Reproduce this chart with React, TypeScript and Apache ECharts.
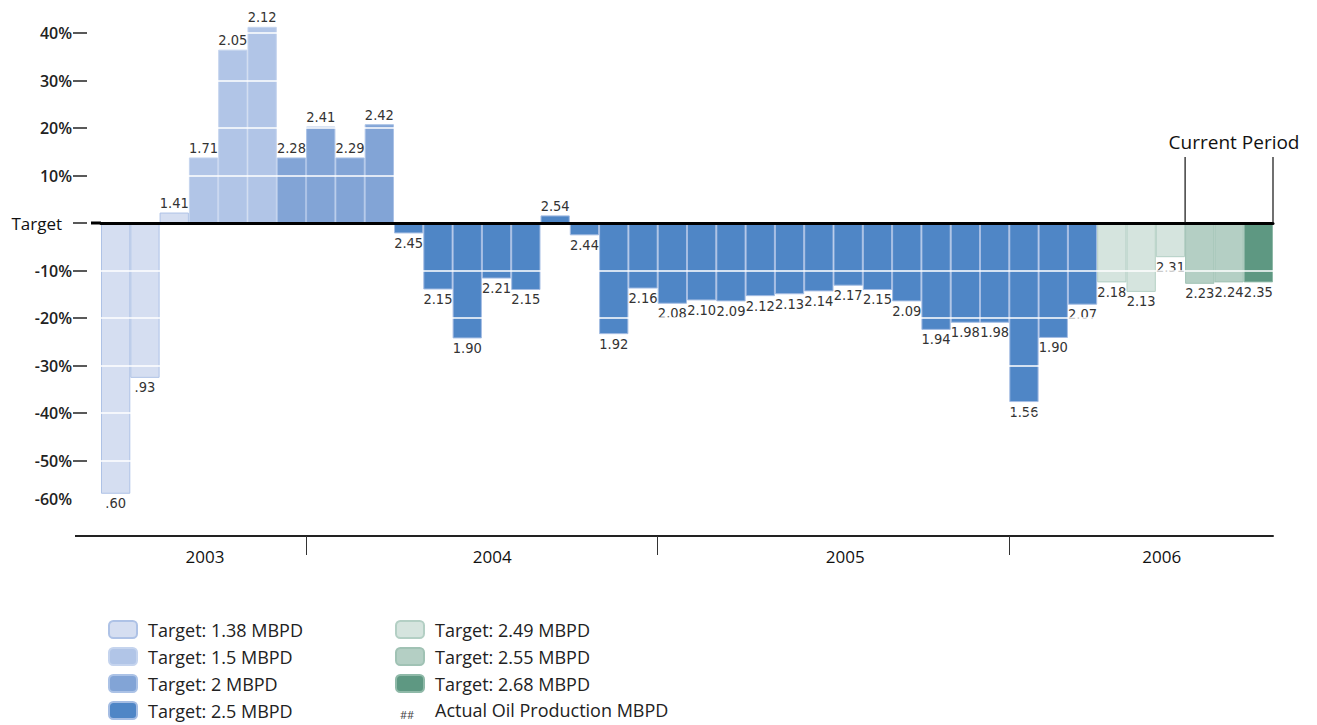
import React, { useEffect, useRef } from "react";
import * as echarts from "echarts";

// Months shown on the category axis (Jun 2003 – Sep 2006)
const months = [
  "Jun 2003", "Jul 2003", "Aug 2003", "Sep 2003", "Oct 2003", "Nov 2003", "Dec 2003",
  "Jan 2004", "Feb 2004", "Mar 2004", "Apr 2004", "May 2004", "Jun 2004",
  "Jul 2004", "Aug 2004", "Sep 2004", "Oct 2004", "Nov 2004", "Dec 2004",
  "Jan 2005", "Feb 2005", "Mar 2005", "Apr 2005", "May 2005", "Jun 2005",
  "Jul 2005", "Aug 2005", "Sep 2005", "Oct 2005", "Nov 2005", "Dec 2005",
  "Jan 2006", "Feb 2006", "Mar 2006", "Apr 2006", "May 2006", "Jun 2006",
  "Jul 2006", "Aug 2006", "Sep 2006",
];

// Actual oil production labels (MBPD)
const production = [
  ".60", ".93", "1.41", "1.71", "2.05", "2.12", "2.28",
  "2.41", "2.29", "2.42", "2.45", "2.15", "1.90", "2.21", "2.15", "2.54", "2.44", "1.92", "2.16",
  "2.08", "2.10", "2.09", "2.12", "2.13", "2.14", "2.17", "2.15", "2.09", "1.94", "1.98", "1.98",
  "1.56", "1.90", "2.07", "2.18", "2.13", "2.31", "2.23", "2.24", "2.35",
];

// Deviation from target (%)
const deviation = [
  -57, -32.6, 2.2, 13.8, 36.5, 41.3, 13.8,
  20.3, 13.8, 20.8, -2.2, -14, -24.3, -11.7, -14.1, 1.6, -2.6, -23.4, -13.8,
  -17, -16.3, -16.5, -15.4, -15, -14.4, -13.2, -14.1, -16.5, -22.5, -21, -21,
  -37.7, -24.2, -17.2, -12.5, -14.5, -7.2, -12.8, -12.5, -12.5,
];

// Which target applies to each month (index into targets)
const targetGroup = [
  0, 0, 0, 1, 1, 1, 2,
  2, 2, 2, 3, 3, 3, 3, 3, 3, 3, 3, 3,
  3, 3, 3, 3, 3, 3, 3, 3, 3, 3, 3, 3,
  3, 3, 3, 4, 4, 4, 5, 5, 6,
];

const targets = [
  "Target: 1.38 MBPD",
  "Target: 1.5 MBPD",
  "Target: 2 MBPD",
  "Target: 2.5 MBPD",
  "Target: 2.49 MBPD",
  "Target: 2.55 MBPD",
  "Target: 2.68 MBPD",
];
const fills = ["#d5def1", "#b1c5e7", "#82a4d6", "#4f86c6", "#d5e4de", "#b4cfc4", "#5e9882"];
const borders = ["#aec2e6", "#c5d4ee", "#abc2e6", "#a5bde3", "#b3cfc4", "#a0c2b4", "#8fb9a8"];

const actualName = "Actual Oil Production MBPD";

const yearLabels = ["2003", "2004", "2005", "2006"];
const yearLabelPos = [3.55, 13.35, 25.4, 36.2];
const yearBoundaries = [7, 19, 31];
const yTickValues = [-50, -40, -30, -20, -10, 0, 10, 20, 30, 40];
const yLabelValues = [-58, -50, -40, -30, -20, -10, 0, 10, 20, 30, 40];
const currentPeriodStart = 37;

const labelFont = "'DejaVu Sans Condensed', 'Liberation Sans Narrow', sans-serif";
const mainFont = "'Open Sans', 'Noto Sans', sans-serif";

export default function App() {
  const ref = useRef<HTMLDivElement>(null);

  useEffect(() => {
    if (!ref.current) return;
    const chart = echarts.init(ref.current, undefined, { renderer: "svg" });

    const barSeries = targets.map((name, g) => ({
      name,
      type: "bar",
      xAxisIndex: 0,
      yAxisIndex: 0,
      barGap: "-100%",
      barCategoryGap: "0%",
      itemStyle: { color: fills[g], borderColor: borders[g], borderWidth: 1 },
      label: {
        show: true,
        formatter: (p: any) => production[p.dataIndex],
        fontFamily: labelFont,
        fontSize: 14.5,
        color: "#333",
        distance: 2,
      },
      z: 2,
      data: deviation.map((v, i) =>
        targetGroup[i] === g
          ? { value: v, label: { position: v >= 0 ? "top" : "bottom" } }
          : "-"
      ),
    }));

    const legendText = {
      fontFamily: mainFont,
      fontSize: 18,
      lineHeight: 17,
      color: "#222",
      padding: [0, 0, 0, 6],
    };

    const legendCommon = {
      orient: "vertical",
      top: 620,
      height: 118,
      padding: 0,
      itemWidth: 28,
      itemHeight: 17,
      itemGap: 8,
      selectedMode: false,
      textStyle: legendText,
    };

    const option: any = {
      animation: false,
      backgroundColor: "#ffffff",
      grid: { left: 101, right: 44, top: 23.5, bottom: 226.5, containLabel: false },
      legend: [
        { ...legendCommon, data: targets.slice(0, 4), left: 108 },
        {
          ...legendCommon,
          data: [...targets.slice(4), { name: actualName, icon: "none" }],
          left: 395,
        },
      ],
      xAxis: [
        {
          type: "category",
          data: months,
          z: 11,
          axisLine: { show: true, onZero: true, lineStyle: { color: "#000", width: 3 } },
          axisTick: { show: false },
          axisLabel: { show: false },
          splitLine: { show: false },
        },
        {
          type: "value",
          min: 0,
          max: 40,
          position: "bottom",
          offset: 37.5,
          axisLine: { show: true, onZero: false, lineStyle: { color: "#222", width: 2 } },
          axisTick: {
            show: true,
            customValues: yearBoundaries,
            length: 19,
            lineStyle: { color: "#333", width: 1 },
          },
          axisLabel: {
            show: true,
            customValues: yearLabelPos,
            formatter: (v: number) => {
              const idx = yearLabelPos.findIndex((p) => Math.abs(p - v) < 0.01);
              return idx >= 0 ? yearLabels[idx] : "";
            },
            margin: 12,
            fontFamily: mainFont,
            fontSize: 17,
            fontWeight: 500,
            color: "#111",
          },
          splitLine: { show: false },
        },
      ],
      yAxis: {
        type: "value",
        min: -58,
        max: 42,
        offset: 14,
        z: 10,
        axisLine: { show: true, onZero: false, lineStyle: { color: "rgba(0,0,0,0)", width: 1 } },
        axisTick: {
          show: true,
          customValues: yTickValues,
          length: 14,
          lineStyle: { color: "#222", width: 1.5 },
        },
        axisLabel: {
          show: true,
          customValues: yLabelValues,
          formatter: (v: number) =>
            v === 0 ? "{t|Target}" : v === -58 ? "-60%" : v + "%",
          margin: 15,
          fontFamily: mainFont,
          fontSize: 16,
          fontWeight: 600,
          color: "#222",
          rich: {
            t: { fontFamily: mainFont, fontSize: 17, fontWeight: 500, color: "#111", padding: [0, 10, 0, 0] },
          },
        },
        splitLine: { show: true, lineStyle: { color: "#ffffff", width: 1.5 } },
      },
      series: [
        ...barSeries,
        { name: actualName, type: "line", xAxisIndex: 0, yAxisIndex: 0, data: [] },
      ],
    };

    chart.setOption(option);

    const xs = chart.convertToPixel({ xAxisIndex: 1 } as any, currentPeriodStart) as number;
    const xe = chart.convertToPixel({ xAxisIndex: 1 } as any, 40) as number;
    const x0 = chart.convertToPixel({ xAxisIndex: 1 } as any, 0) as number;
    const y0 = chart.convertToPixel({ yAxisIndex: 0 } as any, 0) as number;
    const yB = chart.convertToPixel({ yAxisIndex: 0 } as any, -58) as number;
    const yAxisLine = yB + 37.5;

    chart.setOption({
      graphic: [
        {
          type: "line",
          z: 20,
          shape: { x1: x0 - 10, y1: y0, x2: x0, y2: y0 },
          style: { stroke: "#000", lineWidth: 3 },
        },
        {
          type: "line",
          z: 20,
          shape: { x1: x0 - 26, y1: yAxisLine, x2: x0, y2: yAxisLine },
          style: { stroke: "#222", lineWidth: 2 },
        },
        {
          type: "line",
          z: 20,
          shape: { x1: xs, y1: 157, x2: xs, y2: y0 },
          style: { stroke: "#111", lineWidth: 1.2 },
        },
        {
          type: "line",
          z: 20,
          shape: { x1: xe, y1: 157, x2: xe, y2: y0 },
          style: { stroke: "#111", lineWidth: 1.2 },
        },
        {
          type: "text",
          z: 20,
          x: (xs + xe) / 2 + 5,
          y: 142,
          style: {
            text: "Current Period",
            fontFamily: mainFont,
            fontSize: 19,
            fontWeight: 500,
            fill: "#111",
            align: "center",
            verticalAlign: "middle",
          },
        },
        {
          type: "text",
          z: 20,
          x: 400,
          y: 714,
          style: {
            text: "##",
            fontFamily: mainFont,
            fontSize: 11,
            fill: "#444",
            align: "left",
            verticalAlign: "middle",
          },
        },
      ],
    });

    return () => chart.dispose();
  }, []);

  return (
    <div
      ref={ref}
      style={{ position: "absolute", left: 0, top: 0, width: 1317, height: 725 }}
    />
  );
}
